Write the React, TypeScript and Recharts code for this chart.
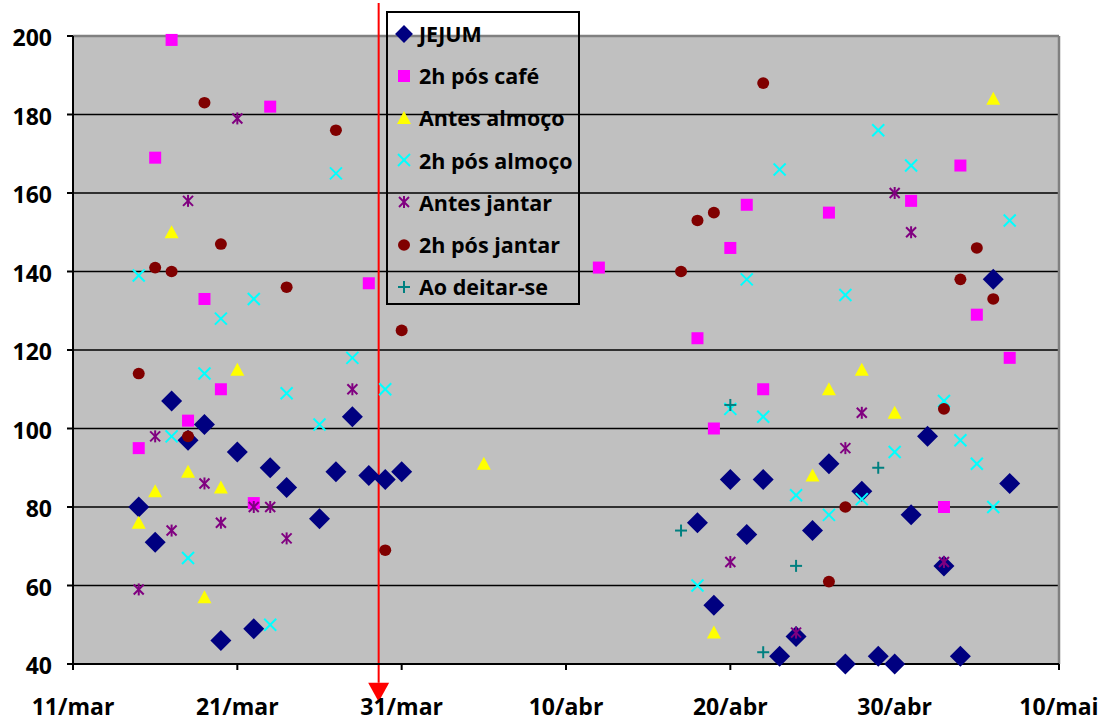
import React from 'react';
import {
  ScatterChart,
  Scatter,
  XAxis,
  YAxis,
  CartesianGrid,
  Legend,
  ReferenceLine,
} from 'recharts';

// Dias contados a partir de 11/mar (0 = 11/mar, 10 = 21/mar, ...)
const rotulosX = ['11/mar', '21/mar', '31/mar', '10/abr', '20/abr', '30/abr', '10/mai'];
const ticksX = [0, 10, 20, 30, 40, 50, 60];
const ticksY = [40, 60, 80, 100, 120, 140, 160, 180, 200];

// [dia, glicemia]
const jejum: [number, number][] = [
  [4, 80], [5, 71], [6, 107], [7, 97], [8, 101], [9, 46], [10, 94], [11, 49], [12, 90],
  [13, 85], [15, 77], [16, 89], [17, 103], [18, 88], [19, 87], [20, 89], [38, 76],
  [39, 55], [40, 87], [41, 73], [42, 87], [43, 42], [44, 47], [45, 74], [46, 91],
  [47, 40], [48, 84], [49, 42], [50, 40], [51, 78], [52, 98], [53, 65], [54, 42],
  [56, 138], [57, 86],
];
const posCafe: [number, number][] = [
  [4, 95], [5, 169], [6, 199], [7, 102], [8, 133], [9, 110], [11, 81], [12, 182],
  [18, 137], [32, 141], [38, 123], [39, 100], [40, 146], [41, 157], [42, 110],
  [46, 155], [51, 158], [53, 80], [54, 167], [55, 129], [57, 118],
];
const antesAlmoco: [number, number][] = [
  [4, 76], [5, 84], [6, 150], [7, 89], [8, 57], [9, 85], [10, 115], [25, 91],
  [39, 48], [45, 88], [46, 110], [48, 115], [50, 104], [56, 184],
];
const posAlmoco: [number, number][] = [
  [4, 139], [6, 98], [7, 67], [8, 114], [9, 128], [11, 133], [12, 50], [13, 109],
  [15, 101], [16, 165], [17, 118], [19, 110], [38, 60], [40, 105], [41, 138],
  [42, 103], [43, 166], [44, 83], [46, 78], [47, 134], [48, 82], [49, 176], [50, 94],
  [51, 167], [53, 107], [54, 97], [55, 91], [56, 80], [57, 153],
];
const antesJantar: [number, number][] = [
  [4, 59], [5, 98], [6, 74], [7, 158], [8, 86], [9, 76], [10, 179], [11, 80], [12, 80],
  [13, 72], [17, 110], [40, 66], [44, 48], [47, 95], [48, 104], [50, 160], [51, 150],
  [53, 66],
];
const posJantar: [number, number][] = [
  [4, 114], [5, 141], [6, 140], [7, 98], [8, 183], [9, 147], [13, 136], [16, 176],
  [19, 69], [20, 125], [37, 140], [38, 153], [39, 155], [42, 188], [46, 61], [47, 80],
  [53, 105], [54, 138], [55, 146], [56, 133],
];
const aoDeitar: [number, number][] = [
  [37, 74], [40, 106], [42, 43], [44, 65], [49, 90],
];

// dia marcado pela seta vermelha
const marcoDia = 18.6;

const fonte = '"Open Sans", Lato, sans-serif';

type Forma = (cx: number, cy: number, k?: number) => React.ReactElement;

const losango: Forma = (cx, cy, k = 1) => {
  const r = 10.5 * k;
  return <polygon points={`${cx},${cy - r} ${cx + r},${cy} ${cx},${cy + r} ${cx - r},${cy}`} fill="#000080" />;
};
const quadrado: Forma = (cx, cy) => <rect x={cx - 6} y={cy - 6} width={12} height={12} fill="#FF00FF" />;
const triangulo: Forma = (cx, cy) => (
  <polygon points={`${cx},${cy - 7} ${cx + 7},${cy + 6} ${cx - 7},${cy + 6}`} fill="#FFFF00" />
);
const xis: Forma = (cx, cy) => (
  <g stroke="#00FFFF" strokeWidth={2}>
    <line x1={cx - 6} y1={cy - 6} x2={cx + 6} y2={cy + 6} />
    <line x1={cx - 6} y1={cy + 6} x2={cx + 6} y2={cy - 6} />
  </g>
);
const asterisco: Forma = (cx, cy) => (
  <g stroke="#800080" strokeWidth={2}>
    <line x1={cx - 5} y1={cy - 5} x2={cx + 5} y2={cy + 5} />
    <line x1={cx - 5} y1={cy + 5} x2={cx + 5} y2={cy - 5} />
    <line x1={cx} y1={cy - 6} x2={cx} y2={cy + 6} />
  </g>
);
const bola: Forma = (cx, cy) => <ellipse cx={cx} cy={cy} rx={6} ry={5.8} fill="#800000" />;
const mais: Forma = (cx, cy) => (
  <g stroke="#008080" strokeWidth={2}>
    <line x1={cx - 6} y1={cy} x2={cx + 6} y2={cy} />
    <line x1={cx} y1={cy - 6} x2={cx} y2={cy + 6} />
  </g>
);

const series = [
  { nome: 'JEJUM', dados: jejum, forma: losango },
  { nome: '2h pós café', dados: posCafe, forma: quadrado },
  { nome: 'Antes almoço', dados: antesAlmoco, forma: triangulo },
  { nome: '2h pós almoço', dados: posAlmoco, forma: xis },
  { nome: 'Antes jantar', dados: antesJantar, forma: asterisco },
  { nome: '2h pós jantar', dados: posJantar, forma: bola },
  { nome: 'Ao deitar-se', dados: aoDeitar, forma: mais },
];

const renderLegenda = () => (
  <div
    style={{
      position: 'relative',
      width: 194,
      height: 294,
      boxSizing: 'border-box',
      border: '2px solid #000',
      fontFamily: fonte,
      fontWeight: 700,
      fontSize: 21.5,
      color: '#000',
    }}
  >
    {series.map((s, i) => (
      <div
        key={s.nome}
        style={{
          position: 'absolute',
          left: 0,
          top: 20.5 + i * 42.2 - 21,
          height: 42,
          display: 'flex',
          alignItems: 'center',
          whiteSpace: 'nowrap',
        }}
      >
        <svg width={30} height={24} style={{ marginLeft: 1 }}>
          {s.forma(15, 12, 0.85)}
        </svg>
        <span>{s.nome}</span>
      </div>
    ))}
  </div>
);

// seta vertical que atravessa o gráfico
const renderSeta = (props: unknown) => {
  const { x1, y1, x2, y2 } = props as { x1: number; y1: number; x2: number; y2: number };
  return (
    <g>
      <line x1={x1} y1={y1} x2={x2} y2={y2} stroke="#FF0000" strokeWidth={2} />
      <polygon points={`${x2 - 10.5},${y2} ${x2 + 10.5},${y2} ${x2},${y2 + 19}`} fill="#FF0000" />
    </g>
  );
};

export default function App() {
  const tickStyle = { fill: '#000', fontSize: 23, fontWeight: 700, fontFamily: fonte };
  return (
    <div style={{ position: 'absolute', left: 0, top: 0, background: '#fff' }}>
      <ScatterChart width={1109} height={726} margin={{ top: 36, right: 50, bottom: 0, left: 0 }}>
        <CartesianGrid vertical={false} fill="#C0C0C0" fillOpacity={1} stroke="#000" strokeWidth={1.5} />
        <XAxis
          type="number"
          dataKey="x"
          domain={[0, 60]}
          ticks={ticksX}
          interval={0}
          tickFormatter={(v: number) => rotulosX[Math.round(v / 10)]}
          height={62}
          tickSize={6}
          tickMargin={29}
          axisLine={{ stroke: '#000', strokeWidth: 2 }}
          tickLine={{ stroke: '#000', strokeWidth: 2 }}
          tick={tickStyle}
        />
        <YAxis
          type="number"
          dataKey="y"
          domain={[40, 200]}
          ticks={ticksY}
          interval={0}
          width={73}
          tickSize={6}
          tickMargin={15}
          axisLine={{ stroke: '#000', strokeWidth: 2 }}
          tickLine={{ stroke: '#000', strokeWidth: 2 }}
          tick={{ ...tickStyle, dy: 2 }}
        />
        <ReferenceLine y={200} stroke="#808080" strokeWidth={2.5} />
        <ReferenceLine x={60} stroke="#808080" strokeWidth={2.5} />
        {series.map((s) => (
          <Scatter
            key={s.nome}
            name={s.nome}
            data={s.dados.map(([x, y]) => ({ x, y }))}
            isAnimationActive={false}
            shape={(p: unknown) => {
              const { cx, cy } = p as { cx: number; cy: number };
              return s.forma(cx, cy);
            }}
          />
        ))}
        <ReferenceLine
          segment={[{ x: marcoDia, y: 208.4 }, { x: marcoDia, y: 35.2 }]}
          ifOverflow="visible"
          shape={renderSeta}
        />
        <Legend
          layout="vertical"
          align="center"
          verticalAlign="middle"
          content={renderLegenda}
          wrapperStyle={{ left: 386, top: 11, width: 194, height: 294, right: 'auto', bottom: 'auto' }}
        />
      </ScatterChart>
    </div>
  );
}
